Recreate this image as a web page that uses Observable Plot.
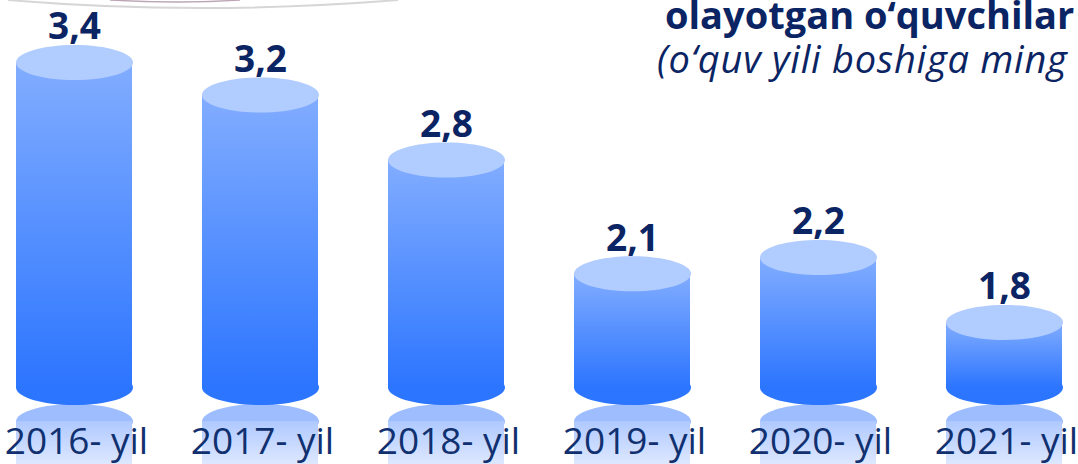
<!DOCTYPE html>
<html>
<head>
<meta charset="utf-8">
<script src="https://cdn.jsdelivr.net/npm/d3@7"></script>
<script src="https://cdn.jsdelivr.net/npm/@observablehq/plot@0.6"></script>
<style>
  html, body { margin: 0; padding: 0; background: #ffffff; }
  #wrap { position: relative; width: 1078px; height: 464px; overflow: hidden; }
</style>
</head>
<body>
<div id="wrap"></div>
<script>
// ---- data ----
const years = ["2016- yil", "2017- yil", "2018- yil", "2019- yil", "2020- yil", "2021- yil"];
const values = [3.4, 3.2, 2.8, 2.1, 2.2, 1.8];
const valueLabels = ["3,4", "3,2", "2,8", "2,1", "2,2", "1,8"];
const titleLine1 = "olayotgan o‘quvchilar";
const titleLine2 = "(o‘quv yili boshiga ming";
const yDomain = [1.4, 3.4];

const data = years.map((year, i) => ({year, value: values[i], label: valueLabels[i]}));
const base = yDomain[0];

// custom ellipse symbol (rx = r, ry = 0.3 r)
const ellipse = {
  draw(context, size) {
    const rx = Math.sqrt(size / Math.PI), ry = rx * 0.3, k = 0.5522847498;
    context.moveTo(rx, 0);
    context.bezierCurveTo(rx, ry * k, rx * k, ry, 0, ry);
    context.bezierCurveTo(-rx * k, ry, -rx, ry * k, -rx, 0);
    context.bezierCurveTo(-rx, -ry * k, -rx * k, -ry, 0, -ry);
    context.bezierCurveTo(rx * k, -ry, rx, -ry * k, rx, 0);
    context.closePath();
  }
};

const NAVY = "#0b2463";
const R = 58.5;

const chart = Plot.plot({
  width: 1078,
  height: 464,
  marginTop: 62,
  marginBottom: 77,
  marginLeft: 0,
  marginRight: 0,
  style: {fontFamily: "'Open Sans', sans-serif", background: "transparent", overflow: "visible"},
  x: {domain: years, paddingInner: 0.374, paddingOuter: 0.07, axis: null},
  y: {domain: yDomain, axis: null},
  marks: [
    // reflection
    Plot.dot(data, {x: "year", y: () => base, r: R, symbol: ellipse, dy: 34, fill: "url(#reflGrad)", stroke: "none"}),
    Plot.barY(data, {x: "year", y1: () => base, y2: () => base, insetTop: 34, insetBottom: -84, fill: "url(#reflGrad)"}),
    // bottom of cylinder
    Plot.dot(data, {x: "year", y: () => base, r: R, symbol: ellipse, fill: "#2c75ff", stroke: "none"}),
    // body
    Plot.barY(data, {x: "year", y1: () => base, y2: "value", fill: "url(#bodyGrad)"}),
    // top of cylinder
    Plot.dot(data, {x: "year", y: "value", r: R, symbol: ellipse, fill: "#b1ccff", stroke: "none"}),
    // value labels
    Plot.text(data, {x: "year", y: "value", text: "label", dy: -35, fontSize: 37, fontWeight: 700, fill: NAVY}),
    // category labels
    Plot.text(data, {x: "year", frameAnchor: "bottom", text: "year", dy: 66, dx: 2, fontSize: 37, fill: "#10306f"})
  ]
});

const svg = d3.select(chart);
const defs = svg.insert("defs", ":first-child");
const bg = defs.append("linearGradient").attr("id", "bodyGrad")
  .attr("x1", 0).attr("y1", 0).attr("x2", 0).attr("y2", 1);
bg.append("stop").attr("offset", "0%").attr("stop-color", "#82adff");
bg.append("stop").attr("offset", "100%").attr("stop-color", "#2c75ff");
const rg = defs.append("linearGradient").attr("id", "reflGrad")
  .attr("gradientUnits", "userSpaceOnUse")
  .attr("x1", 0).attr("y1", 405).attr("x2", 0).attr("y2", 470);
rg.append("stop").attr("offset", "0%").attr("stop-color", "#9dbdff");
rg.append("stop").attr("offset", "100%").attr("stop-color", "#e4ecff");

// decorative arc at top-left (edge of a cropped picture)
svg.append("path").attr("d", "M 8 0 Q 200 16 398 0").attr("fill", "none")
  .attr("stroke", "#d6d6d6").attr("stroke-width", 2);
svg.append("path").attr("d", "M 110 0 Q 180 4 240 0").attr("fill", "none")
  .attr("stroke", "#7a4d6e").attr("stroke-width", 1.5).attr("opacity", 0.5);

// title lines
svg.append("text").text(titleLine1)
  .attr("x", 665).attr("y", 29).attr("text-anchor", "start")
  .attr("font-family", "'Open Sans', sans-serif").attr("font-weight", 700)
  .attr("font-size", 38).attr("fill", NAVY);
svg.append("text").text(titleLine2)
  .attr("x", 657).attr("y", 73).attr("text-anchor", "start")
  .attr("font-family", "'Open Sans', sans-serif").attr("font-style", "italic")
  .attr("font-size", 38).attr("letter-spacing", 0.75).attr("fill", NAVY);

document.getElementById("wrap").appendChild(chart);
</script>
</body>
</html>
